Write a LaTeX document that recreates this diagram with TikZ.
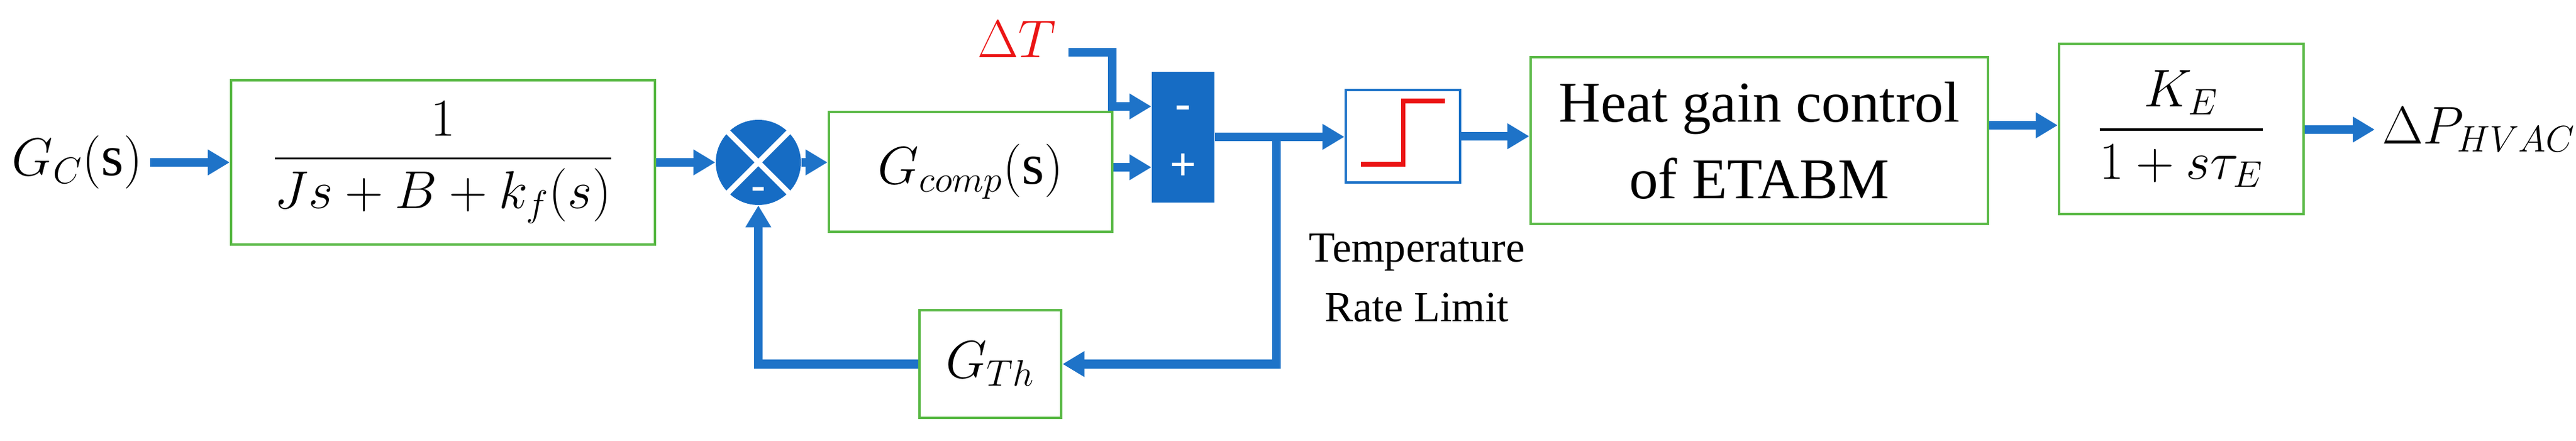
\documentclass[tikz,border=0pt]{standalone}
\usepackage{amsmath}
\usepackage{fontspec}
\setmainfont{Liberation Serif}
\usetikzlibrary{arrows.meta}
\definecolor{ablue}{RGB}{30,115,200}
\definecolor{bblock}{RGB}{22,108,196}
\definecolor{bgreen}{RGB}{90,185,70}
\definecolor{sred}{RGB}{235,20,20}
\begin{document}
\begin{tikzpicture}[x=1cm,y=1cm,
  gbox/.style={draw=bgreen,line width=1.3pt,minimum width=#1,inner sep=0pt},
  sig/.style={draw=ablue,line width=4pt,-{Triangle[length=0.36cm,width=0.4cm]}},
  wire/.style={draw=ablue,line width=4pt},
  txt/.style={font=\fontsize{27}{32}\selectfont}]
\useasboundingbox (0,0) rectangle (42.36,-7.25);
% nodes
\node[txt,anchor=east] (gc) at (2.47,-2.67) {$G_C(\mathrm{s})$};
\node[gbox=6.97cm,minimum height=2.70cm,txt] (b1) at (7.285,-2.67) {$\dfrac{1}{Js+B+k_f(s)}$};
\node[circle,fill=bblock,minimum size=1.40cm,inner sep=0pt] (sum) at (12.47,-2.67) {};
\draw[white,line width=2.5pt] (sum.45) -- (sum.225) (sum.135) -- (sum.315);
\node[white,font=\fontsize{20}{20}\selectfont\bfseries] (sm) at (12.47,-3.18) {-};
\node[gbox=4.66cm,minimum height=1.97cm,txt] (gcomp) at (15.96,-2.825) {$G_{comp}(\mathrm{s})$};
\node[fill=bblock,minimum width=1.03cm,minimum height=2.15cm,inner sep=0pt] (blk) at (19.455,-2.255) {};
\node[white,font=\fontsize{22}{22}\selectfont\bfseries] (bm) at (19.455,-1.85) {-};
\node[white,font=\fontsize{22}{22}\selectfont\bfseries] (bp) at (19.455,-2.75) {+};
\node[txt,text=sred] (dt) at (16.72,-0.65) {$\Delta T$};
\node[draw=ablue,line width=1.3pt,minimum width=1.88cm,minimum height=1.52cm,inner sep=0pt] (sat) at (23.07,-2.24) {};
\draw[sred,line width=2pt] (22.38,-2.70) -- (23.07,-2.70) -- (23.07,-1.66) -- (23.76,-1.66);
\node[align=center,font=\fontsize{20}{28}\selectfont] (trl) at (23.30,-4.57) {Temperature\\Rate Limit};
\node[gbox=7.52cm,minimum height=2.74cm,align=center,font=\fontsize{27}{36}\selectfont] (heat) at (28.93,-2.31) {Heat gain control\\of ETABM};
\node[gbox=4.02cm,minimum height=2.80cm,txt] (ke) at (35.87,-2.12) {$\dfrac{K_E}{1+s\tau_E}$};
\node[gbox=2.33cm,minimum height=1.77cm,txt] (gth) at (16.285,-5.985) {$G_{Th}$};
\node[txt,anchor=west] (dp) at (39.05,-2.13) {$\Delta P_{HVAC}$};
\coordinate (dts) at (17.57,-0.86);
\coordinate (br) at (20.99,-2.25);
% connectors
\draw[sig] (gc.east) -- (b1.west);
\draw[sig] (b1.east) -- (sum.west);
\draw[sig] (sum.east) -- (gcomp.west |- sum.east);
\draw[sig] (gcomp.east |- 0,-2.75) -- (blk.west |- 0,-2.75);
\draw[sig] (dts) -- (18.29,-0.86) -- (18.29,-1.75) -- (blk.west |- 0,-1.75);
\draw[sig] (blk.east |- br) -- (sat.west |- br);
\draw[sig] (br) |- (gth.east);
\draw[sig] (gth.west) -| (sum.south);
\draw[sig] (sat.east) -- (heat.west |- sat.east);
\draw[sig] (heat.east |- 0,-2.06) -- (ke.west |- 0,-2.06);
\draw[sig] (ke.east |- dp.west) -- (dp.west);
\end{tikzpicture}
\end{document}
